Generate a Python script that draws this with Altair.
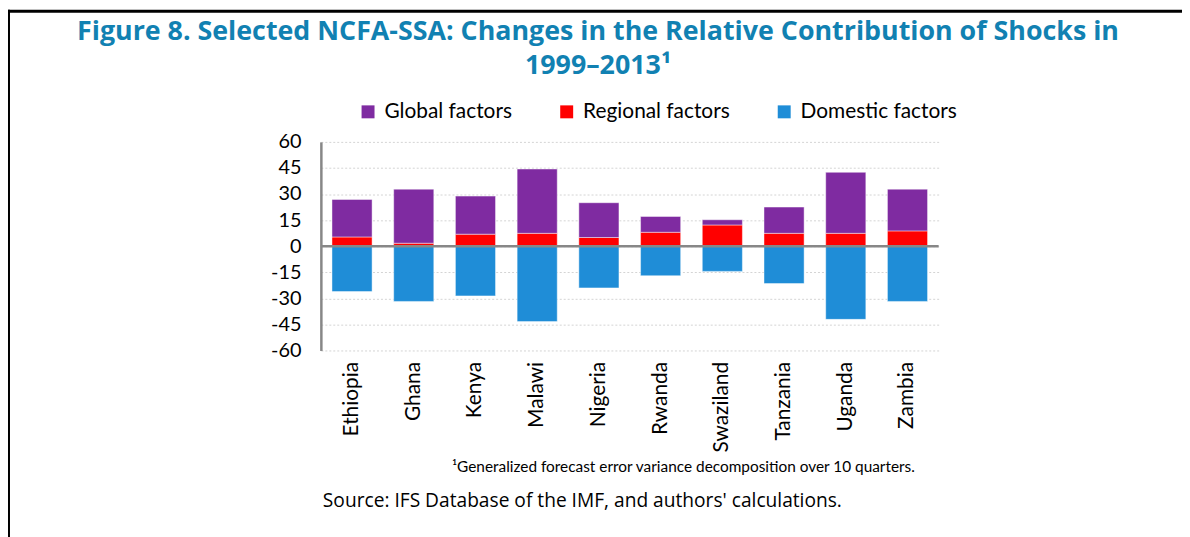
import altair as alt
import pandas as pd

countries = ["Ethiopia", "Ghana", "Kenya", "Malawi", "Nigeria",
             "Rwanda", "Swaziland", "Tanzania", "Uganda", "Zambia"]
regional = [5.3, 1.7, 6.9, 7.4, 5.0, 8.0, 12.2, 7.4, 7.4, 8.8]
global_f = [21.6, 31.1, 21.9, 37.0, 20.0, 9.1, 3.0, 15.1, 35.1, 24.0]
domestic = [-26.1, -31.8, -28.6, -43.4, -24.0, -17.0, -14.5, -21.5, -42.1, -31.8]

factors = ["Global factors", "Regional factors", "Domestic factors"]
colors = ["#7F2BA1", "#FF0000", "#1F8DD7"]
y_ticks = [-60, -45, -30, -15, 0, 15, 30, 45, 60]

title_lines = ["Figure 8. Selected NCFA-SSA: Changes in the Relative Contribution of Shocks in",
               "1999\u20132013\u00b9"]
footnote = "\u00b9Generalized forecast error variance decomposition over 10 quarters."
source = "Source: IFS Database of the IMF, and authors' calculations."

rows = []
for i, c in enumerate(countries):
    rows.append({"country": c, "factor": "Regional factors", "value": regional[i], "ord": 1})
    rows.append({"country": c, "factor": "Global factors", "value": global_f[i], "ord": 2})
    rows.append({"country": c, "factor": "Domestic factors", "value": domestic[i], "ord": 3})
df = pd.DataFrame(rows)

FONT = "Lato"
FS = 21

y_scale = alt.Scale(domain=[-60, 60], nice=False)
y_axis = alt.Axis(title=None, values=y_ticks, ticks=False, labelPadding=20,
                  labelOverlap=False, labelExpr="'' + datum.value",
                  labelFontSize=20, labelFont=FONT, labelColor="#000000",
                  domainColor="#878787", domainWidth=2.5,
                  gridColor="#d4d4d4", gridDash=[2, 2], gridWidth=1)

bars = alt.Chart(df).mark_bar(stroke="white", strokeOpacity=0.45, strokeWidth=1).encode(
    x=alt.X("country:N", sort=countries,
            scale=alt.Scale(paddingInner=0.35, paddingOuter=0.18),
            axis=alt.Axis(title=None, labelAngle=-90, labelPadding=11, domain=False,
                          ticks=False, labelFontSize=FS, labelFont=FONT,
                          labelColor="#000000")),
    y=alt.Y("value:Q", stack="zero", scale=y_scale, axis=y_axis),
    color=alt.Color("factor:N",
                    scale=alt.Scale(domain=factors, range=colors),
                    legend=alt.Legend(title=None, orient="none", direction="horizontal",
                                      legendX=37, legendY=-41, symbolType="square",
                                      symbolSize=170, symbolStrokeWidth=0,
                                      labelFontSize=FS, labelFont=FONT,
                                      labelColor="#000000", columnPadding=44,
                                      labelOffset=6)),
    order=alt.Order("ord:Q"),
)

zero = alt.Chart(pd.DataFrame({"value": [0]})).mark_rule(color="#878787", strokeWidth=2.5).encode(
    y=alt.Y("value:Q", scale=y_scale, axis=y_axis)
)

one = pd.DataFrame({"t": [footnote], "s": [source]})
foot = alt.Chart(one).mark_text(align="left", baseline="alphabetic", font=FONT,
                                fontSize=15.5, color="#000000").encode(
    text="t:N", x=alt.value(132), y=alt.value(332)
)
src = alt.Chart(one).mark_text(align="left", baseline="alphabetic", font="Open Sans",
                               fontSize=19.3, color="#000000").encode(
    text="s:N", x=alt.value(2), y=alt.value(368)
)

frame_top = alt.Chart(pd.DataFrame({"a": [1]})).mark_rule(color="#000000", strokeWidth=3).encode(
    x=alt.value(-316), x2=alt.value(870), y=alt.value(-131.5)
)
frame_left = alt.Chart(pd.DataFrame({"a": [1]})).mark_rule(color="#000000", strokeWidth=3).encode(
    x=alt.value(-314.5), y=alt.value(-133), y2=alt.value(400)
)

chart = alt.layer(bars, zero, foot, src, frame_top, frame_left).properties(
    width=622,
    height=210,
    autosize=alt.AutoSizeParams(type="none"),
    padding={"left": 315, "top": 133, "right": 245, "bottom": 186},
    title=alt.TitleParams(text=title_lines, font="Open Sans", fontSize=27, fontWeight="bold",
                          color="#1181B2", lineHeight=34, anchor="middle", frame="group",
                          dx=-32, offset=0, dy=72),
).configure_view(strokeOpacity=0)

chart.save("out.html", embed_options={"renderer": "svg", "actions": False})
